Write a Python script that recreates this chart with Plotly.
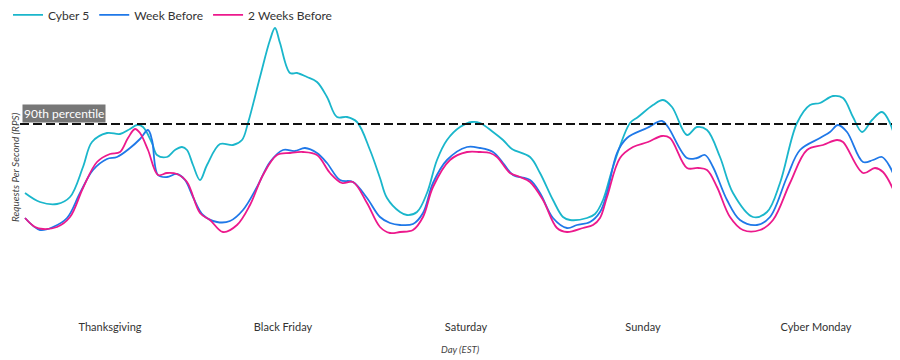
import plotly.graph_objects as go

# time index (5 days, ~176 steps per day) and request rate (arbitrary RPS units)
cyber5_t = [25, 40, 57, 70, 83, 92, 107, 120, 130, 137, 143, 152, 157, 167, 175, 182, 187, 193, 200, 207,
            220, 233, 242, 248, 260, 270, 275, 280, 290, 297, 307, 317, 327, 337, 347, 357, 370, 380, 387,
            400, 407, 417, 427, 437, 447, 460, 472, 480, 493, 503, 512, 530, 540, 553, 563, 570, 587, 595,
            603, 613, 630, 638, 653, 663, 672, 687, 697, 707, 720, 733, 753, 767, 780, 797, 810, 820, 833,
            843, 853, 862, 872, 882, 890, 898]
cyber5_v = [107, 98, 96, 103, 133, 158, 167, 166, 171, 175, 173, 157, 145, 143, 150, 153, 150, 135, 120, 135,
            156, 155, 160, 177, 223, 260, 272, 257, 227, 227, 223, 218, 203, 183, 183, 178, 150, 122, 102,
            88, 85, 88, 107, 140, 160, 173, 178, 177, 168, 160, 151, 143, 127, 100, 83, 80, 82, 86,
            100, 133, 177, 183, 195, 200, 193, 165, 173, 170, 143, 107, 83, 88, 117, 177, 195, 197, 204,
            202, 183, 168, 180, 188, 177, 148]

week_t = [25, 40, 53, 67, 80, 93, 107, 117, 130, 140, 148, 152, 158, 167, 177, 185, 193, 203, 217, 230,
          243, 257, 270, 283, 295, 305, 317, 327, 340, 353, 367, 380, 390, 400, 413, 423, 433, 447, 467,
          480, 493, 503, 513, 530, 540, 553, 567, 577, 590, 600, 607, 617, 627, 647, 662, 668, 687, 697,
          705, 713, 727, 740, 757, 770, 787, 800, 820, 830, 838, 847, 863, 873, 882, 890, 898]
week_v = [82, 70, 73, 82, 107, 130, 141, 143, 152, 161, 170, 160, 125, 123, 126, 120, 103, 85, 78, 79,
          90, 113, 138, 150, 149, 152, 147, 137, 120, 118, 102, 83, 77, 75, 76, 87, 117, 140, 153,
          152, 148, 137, 125, 120, 107, 82, 72, 75, 78, 88, 107, 147, 162, 172, 179, 173, 142, 142,
          145, 133, 100, 80, 75, 83, 123, 150, 162, 168, 175, 168, 138, 140, 143, 133, 113]

two_weeks_t = [25, 35, 43, 57, 70, 83, 97, 110, 120, 128, 135, 140, 148, 158, 167, 177, 187, 200, 210, 223,
               237, 250, 263, 277, 290, 303, 317, 330, 342, 353, 367, 380, 390, 400, 413, 423, 433, 450,
               467, 480, 490, 497, 510, 520, 530, 543, 557, 567, 583, 593, 600, 607, 620, 633, 648, 662,
               670, 687, 698, 707, 717, 730, 743, 760, 773, 790, 807, 823, 837, 843, 863, 875, 883, 898]
two_weeks_v = [82, 73, 71, 73, 83, 112, 138, 146, 148, 162, 171, 167, 150, 125, 127, 126, 118, 87, 80, 68,
               75, 95, 125, 145, 147, 148, 145, 127, 117, 118, 97, 73, 67, 68, 70, 83, 113, 140,
               148, 148, 147, 143, 127, 123, 118, 100, 72, 68, 72, 75, 82, 103, 142, 153, 158, 164,
               162, 132, 132, 130, 113, 83, 70, 70, 80, 117, 150, 155, 160, 158, 127, 132, 128, 100]

day_ticks = [110, 283, 466, 643, 816]
day_labels = ["Thanksgiving", "Black Friday", "Saturday", "Sunday", "Cyber Monday"]
p90 = 176

FONT = "Lato, 'Open Sans', sans-serif"

fig = go.Figure()
series = [
    ("Cyber 5", cyber5_t, cyber5_v, "#1ab6cb"),
    ("Week Before", week_t, week_v, "#1f78e8"),
    ("2 Weeks Before", two_weeks_t, two_weeks_v, "#ec198c"),
]
for name, t, v, c in series:
    fig.add_trace(go.Scatter(x=t, y=v, name=name, mode="lines",
                             line=dict(color=c, width=1.8, shape="spline", smoothing=1.0),
                             hoverinfo="skip"))

fig.add_shape(type="line", xref="paper", x0=0, x1=1, y0=p90, y1=p90,
              line=dict(color="#111111", width=2, dash="9px,4px"))
fig.add_annotation(x=22, y=p90 + 1.5, xref="x", yref="y", xanchor="left", yanchor="bottom",
                   text="90th percentile", showarrow=False, bgcolor="#777777",
                   font=dict(color="white", size=12, family=FONT), borderpad=1)

fig.add_annotation(x=0, y=0.5, xref="paper", yref="paper", xanchor="center", yanchor="middle",
                   text="<i>Requests Per Second (RPS)</i>", showarrow=False, textangle=-90,
                   font=dict(size=10, color="#444444", family=FONT), xshift=-5, yshift=-7)
fig.add_annotation(x=0.5, y=-0.175, xref="paper", yref="paper", xanchor="center", yanchor="middle",
                   text="<i>Day (EST)</i>", showarrow=False,
                   font=dict(size=9.5, color="#444444", family=FONT))

# the page body adds an 8px margin, so the figure is 8px smaller than the window
fig.update_layout(
    width=892, height=352,
    margin=dict(l=12, r=0, t=12, b=60, autoexpand=False),
    paper_bgcolor="white", plot_bgcolor="white",
    font=dict(family=FONT, color="#333333"),
    showlegend=True,
    legend=dict(orientation="h", xref="container", yref="paper", x=0.0, y=1.07,
                xanchor="left", yanchor="top", font=dict(size=12, color="#333333"),
                itemwidth=30, bgcolor="rgba(0,0,0,0)"),
    xaxis=dict(range=[20, 900], showgrid=False, zeroline=False, showline=False, automargin=False,
               tickvals=day_ticks, ticktext=day_labels, ticks="", ticklabelstandoff=19,
               tickfont=dict(size=11, color="#333333", family=FONT)),
    yaxis=dict(range=[0, 280], showgrid=False, zeroline=False, showline=False, automargin=False,
               showticklabels=False, ticks=""),
)

fig.write_html("out.html")
